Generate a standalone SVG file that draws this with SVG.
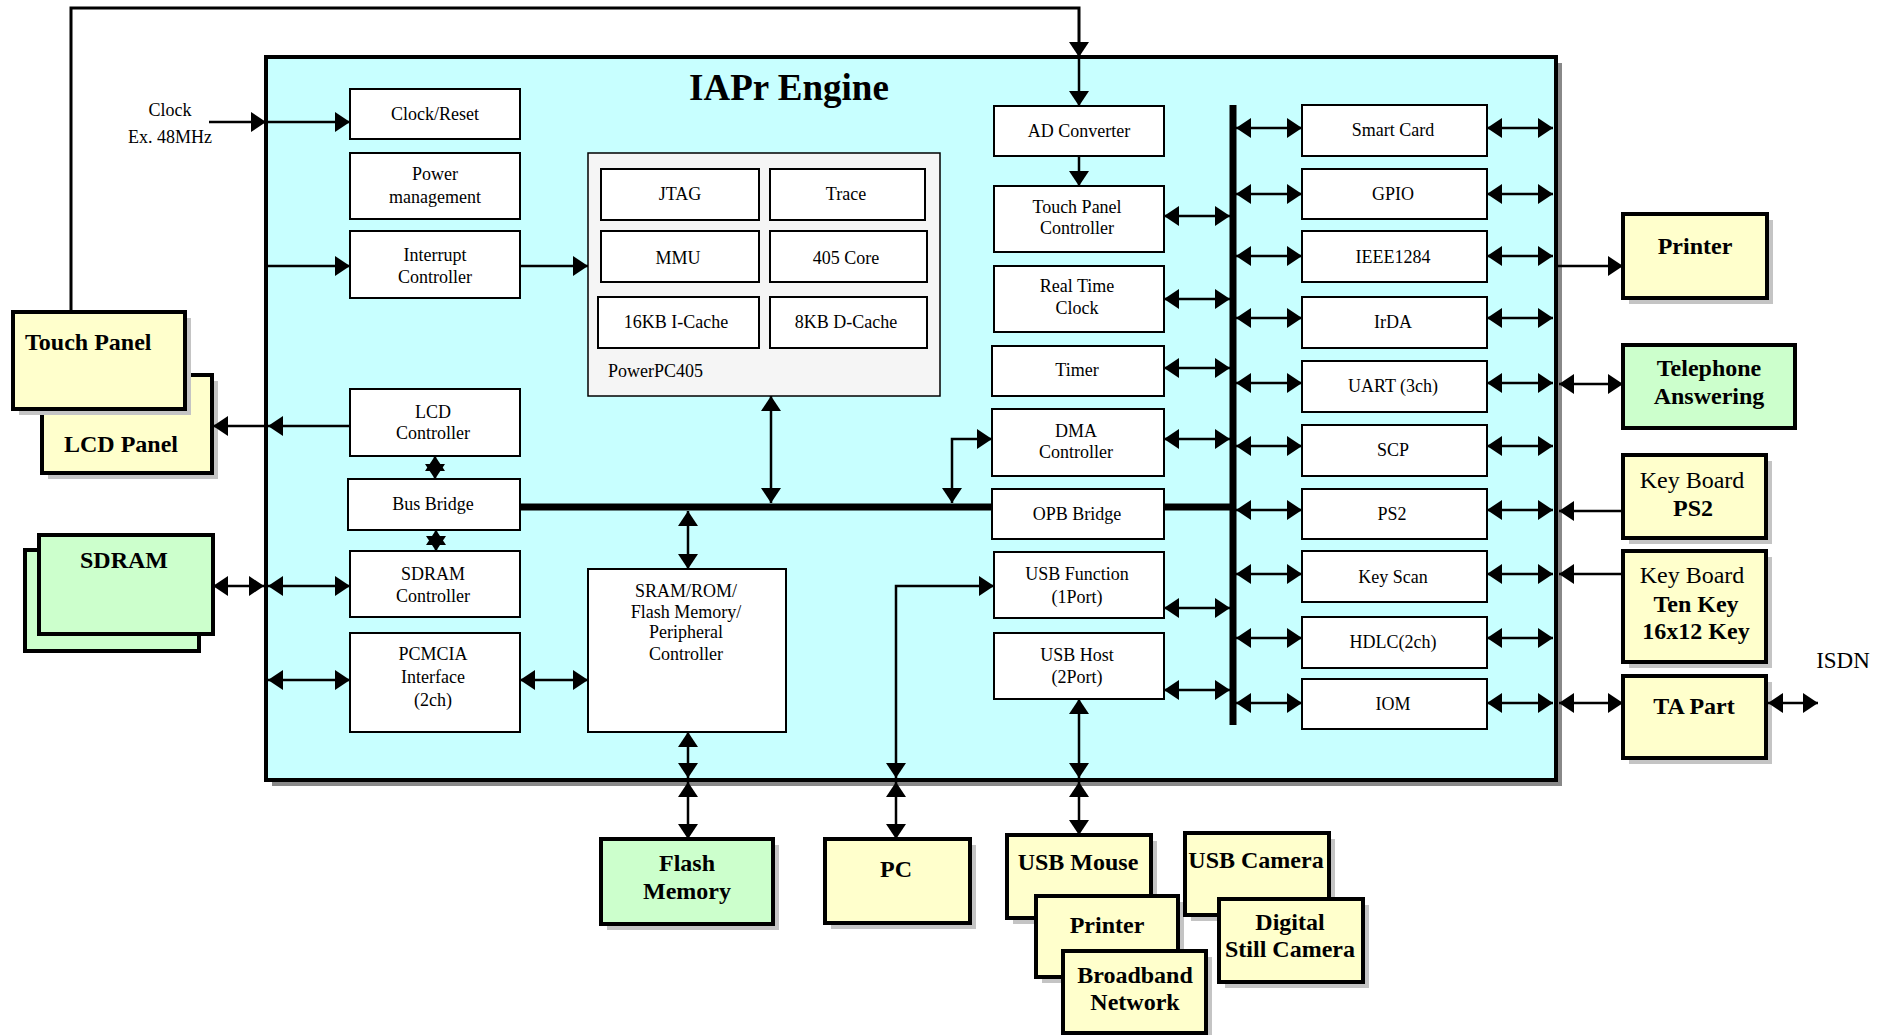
<svg xmlns="http://www.w3.org/2000/svg" width="1885" height="1035" viewBox="0 0 1885 1035">
<defs>
<marker id="ah" markerUnits="userSpaceOnUse" markerWidth="15" markerHeight="20" refX="15" refY="10" orient="auto-start-reverse" viewBox="0 0 15 20">
<path d="M0,0 L15,10 L0,20 z" fill="#000"/>
</marker>
<style>
.ib{fill:#fff;stroke:#000;stroke-width:2}
.xy{fill:#ffffcc;stroke:#000;stroke-width:4}
.xg{fill:#ccffcc;stroke:#000;stroke-width:4}
.sh{fill:#c4c4c4}
.t{font-family:"Liberation Serif","Times New Roman",serif;font-size:18px;fill:#000;text-anchor:middle}
.tb{font-family:"Liberation Serif","Times New Roman",serif;font-size:24px;font-weight:bold;fill:#000;text-anchor:middle}
.tr{font-family:"Liberation Serif","Times New Roman",serif;font-size:24px;fill:#000;text-anchor:middle}
.c{fill:none;stroke:#000;stroke-width:2.5}
.a2{marker-start:url(#ah);marker-end:url(#ah)}
.a1{marker-end:url(#ah)}
.bus{fill:none;stroke:#000;stroke-width:7}
</style>
</defs>
<rect width="1885" height="1035" fill="#fff"/>

<g id="iapr-engine">
<rect x="272" y="63" width="1290" height="723" fill="#888"/>
<rect x="266" y="57" width="1290" height="723" fill="#c8ffff" stroke="#000" stroke-width="4"/>
<text x="789" y="100" class="t" style="font-size:37px;font-weight:bold">IAPr Engine</text>
</g>

<!-- left column -->
<g id="clock-reset"><rect class="ib" x="350" y="89" width="170" height="50"/><text class="t" x="435" y="120">Clock/Reset</text></g>
<g id="power-management"><rect class="ib" x="350" y="153" width="170" height="66"/><text class="t" x="435" y="180">Power</text><text class="t" x="435" y="203">management</text></g>
<g id="interrupt-controller"><rect class="ib" x="350" y="231" width="170" height="67"/><text class="t" x="435" y="261">Interrupt</text><text class="t" x="435" y="283">Controller</text></g>
<g id="lcd-controller"><rect class="ib" x="350" y="389" width="170" height="67"/><text class="t" x="433" y="418">LCD</text><text class="t" x="433" y="439">Controller</text></g>
<g id="bus-bridge"><rect class="ib" x="348" y="479" width="172" height="51"/><text class="t" x="433" y="510">Bus Bridge</text></g>
<g id="sdram-controller"><rect class="ib" x="350" y="551" width="170" height="66"/><text class="t" x="433" y="580">SDRAM</text><text class="t" x="433" y="602">Controller</text></g>
<g id="pcmcia"><rect class="ib" x="350" y="633" width="170" height="99"/><text class="t" x="433" y="660">PCMCIA</text><text class="t" x="433" y="683">Interface</text><text class="t" x="433" y="706">(2ch)</text></g>

<!-- PowerPC -->
<g id="powerpc405">
<rect x="588" y="153" width="352" height="243" fill="#f5f5f5" stroke="#000" stroke-width="1.5"/>
<text class="t" x="608" y="377" style="text-anchor:start">PowerPC405</text>
</g>
<g id="jtag"><rect class="ib" x="601" y="169" width="158" height="51"/><text class="t" x="680" y="200">JTAG</text></g>
<g id="trace"><rect class="ib" x="770" y="169" width="155" height="51"/><text class="t" x="846" y="200">Trace</text></g>
<g id="mmu"><rect class="ib" x="601" y="231" width="158" height="51"/><text class="t" x="678" y="264">MMU</text></g>
<g id="core405"><rect class="ib" x="770" y="231" width="157" height="51"/><text class="t" x="846" y="264">405 Core</text></g>
<g id="icache"><rect class="ib" x="598" y="297" width="161" height="51"/><text class="t" x="676" y="328">16KB I-Cache</text></g>
<g id="dcache"><rect class="ib" x="770" y="297" width="157" height="51"/><text class="t" x="846" y="328">8KB D-Cache</text></g>

<g id="sram-rom"><rect class="ib" x="588" y="569" width="198" height="163"/><text class="t" x="686" y="597">SRAM/ROM/</text><text class="t" x="686" y="618">Flash Memory/</text><text class="t" x="686" y="638">Peripheral</text><text class="t" x="686" y="660">Controller</text></g>

<!-- middle column -->
<g id="ad-converter"><rect class="ib" x="994" y="106" width="170" height="50"/><text class="t" x="1079" y="137">AD Converter</text></g>
<g id="touch-panel-controller"><rect class="ib" x="994" y="186" width="170" height="66"/><text class="t" x="1077" y="213">Touch Panel</text><text class="t" x="1077" y="234">Controller</text></g>
<g id="real-time-clock"><rect class="ib" x="994" y="266" width="170" height="66"/><text class="t" x="1077" y="292">Real Time</text><text class="t" x="1077" y="314">Clock</text></g>
<g id="timer"><rect class="ib" x="992" y="346" width="172" height="50"/><text class="t" x="1077" y="376">Timer</text></g>
<g id="dma-controller"><rect class="ib" x="992" y="409" width="172" height="67"/><text class="t" x="1076" y="437">DMA</text><text class="t" x="1076" y="458">Controller</text></g>
<g id="opb-bridge"><rect class="ib" x="992" y="489" width="172" height="50"/><text class="t" x="1077" y="520">OPB Bridge</text></g>
<g id="usb-function"><rect class="ib" x="994" y="552" width="170" height="66"/><text class="t" x="1077" y="580">USB Function</text><text class="t" x="1077" y="603">(1Port)</text></g>
<g id="usb-host"><rect class="ib" x="994" y="633" width="170" height="66"/><text class="t" x="1077" y="661">USB Host</text><text class="t" x="1077" y="683">(2Port)</text></g>

<!-- right column -->
<g id="smart-card"><rect class="ib" x="1302" y="105" width="185" height="51"/><text class="t" x="1393" y="136">Smart Card</text></g>
<g id="gpio"><rect class="ib" x="1302" y="169" width="185" height="50"/><text class="t" x="1393" y="200">GPIO</text></g>
<g id="ieee1284"><rect class="ib" x="1302" y="231" width="185" height="51"/><text class="t" x="1393" y="263">IEEE1284</text></g>
<g id="irda"><rect class="ib" x="1302" y="297" width="185" height="51"/><text class="t" x="1393" y="328">IrDA</text></g>
<g id="uart"><rect class="ib" x="1302" y="361" width="185" height="51"/><text class="t" x="1393" y="392">UART (3ch)</text></g>
<g id="scp"><rect class="ib" x="1302" y="425" width="185" height="51"/><text class="t" x="1393" y="456">SCP</text></g>
<g id="ps2"><rect class="ib" x="1302" y="489" width="185" height="50"/><text class="t" x="1392" y="520">PS2</text></g>
<g id="key-scan"><rect class="ib" x="1302" y="551" width="185" height="51"/><text class="t" x="1393" y="583">Key Scan</text></g>
<g id="hdlc"><rect class="ib" x="1302" y="617" width="185" height="51"/><text class="t" x="1393" y="648">HDLC(2ch)</text></g>
<g id="iom"><rect class="ib" x="1302" y="679" width="185" height="50"/><text class="t" x="1393" y="710">IOM</text></g>

<!-- external left -->
<g id="clock-text"><text class="t" x="170" y="116">Clock</text><text class="t" x="170" y="143">Ex. 48MHz</text></g>
<g id="lcd-panel"><rect class="sh" x="48" y="381" width="170" height="98"/><rect class="xy" x="42" y="375" width="170" height="98"/><text class="tb" x="121" y="452">LCD Panel</text></g>
<g id="touch-panel"><rect class="sh" x="19" y="318" width="172" height="97"/><rect class="xy" x="13" y="312" width="172" height="97"/><text class="tb" x="25" y="350" style="text-anchor:start">Touch Panel</text></g>
<g id="sdram"><rect class="xg" x="25" y="550" width="174" height="101"/><rect class="xg" x="39" y="535" width="174" height="99"/><text class="tb" x="124" y="568">SDRAM</text></g>

<!-- external right -->
<g id="printer-right"><rect class="sh" x="1629" y="220" width="144" height="84"/><rect class="xy" x="1623" y="214" width="144" height="84"/><text class="tb" x="1695" y="254">Printer</text></g>
<g id="telephone-answering"><rect class="xg" x="1623" y="345" width="172" height="83"/><text class="tb" x="1709" y="376">Telephone</text><text class="tb" x="1709" y="404">Answering</text></g>
<g id="keyboard-ps2"><rect class="sh" x="1629" y="461" width="143" height="83"/><rect class="xy" x="1623" y="455" width="143" height="83"/><text class="tr" x="1692" y="488">Key Board</text><text class="tb" x="1693" y="516">PS2</text></g>
<g id="keyboard-tenkey"><rect class="sh" x="1629" y="557" width="143" height="111"/><rect class="xy" x="1623" y="551" width="143" height="111"/><text class="tr" x="1692" y="583">Key Board</text><text class="tb" x="1696" y="612">Ten Key</text><text class="tb" x="1696" y="639">16x12 Key</text></g>
<g id="ta-part"><rect class="sh" x="1629" y="682" width="143" height="82"/><rect class="xy" x="1623" y="676" width="143" height="82"/><text class="tb" x="1694" y="714">TA Part</text></g>
<g id="isdn"><text class="tr" x="1843" y="668" style="font-size:23px">ISDN</text></g>

<!-- external bottom -->
<g id="flash-memory"><rect class="sh" x="607" y="845" width="172" height="85"/><rect class="xg" x="601" y="839" width="172" height="85"/><text class="tb" x="687" y="871">Flash</text><text class="tb" x="687" y="899">Memory</text></g>
<g id="pc"><rect class="sh" x="831" y="845" width="145" height="84"/><rect class="xy" x="825" y="839" width="145" height="84"/><text class="tb" x="896" y="877">PC</text></g>
<g id="usb-mouse"><rect class="sh" x="1013" y="841" width="144" height="83"/><rect class="xy" x="1007" y="835" width="144" height="83"/><text class="tb" x="1078" y="870">USB Mouse</text></g>
<g id="printer-usb"><rect class="sh" x="1042" y="902" width="142" height="81"/><rect class="xy" x="1036" y="896" width="142" height="81"/><text class="tb" x="1107" y="933">Printer</text></g>
<g id="broadband-network"><rect class="sh" x="1069" y="957" width="143" height="82"/><rect class="xy" x="1063" y="951" width="143" height="82"/><text class="tb" x="1135" y="983">Broadband</text><text class="tb" x="1135" y="1010">Network</text></g>
<g id="usb-camera"><rect class="sh" x="1191" y="839" width="144" height="82"/><rect class="xy" x="1185" y="833" width="144" height="82"/><text class="tb" x="1256" y="868">USB Camera</text></g>
<g id="digital-still-camera"><rect class="sh" x="1225" y="905" width="144" height="83"/><rect class="xy" x="1219" y="899" width="144" height="83"/><text class="tb" x="1290" y="930">Digital</text><text class="tb" x="1290" y="957">Still Camera</text></g>

<g id="connectors">
<polyline class="c a1" points="71,312 71,8 1079,8 1079,57" style="stroke-width:3"/>
<line class="c a1" x1="1079" y1="57" x2="1079" y2="106"/>
<line class="c a1" x1="1079" y1="156" x2="1079" y2="186"/>
<line class="c a2" x1="1164" y1="216" x2="1230" y2="216"/>
<line class="c a2" x1="1164" y1="299" x2="1230" y2="299"/>
<line class="c a2" x1="1164" y1="368" x2="1230" y2="368"/>
<line class="c a2" x1="1164" y1="439" x2="1230" y2="439"/>
<line class="c a2" x1="1164" y1="608" x2="1230" y2="608"/>
<line class="c a2" x1="1164" y1="690" x2="1230" y2="690"/>
<line class="c a2" x1="1236" y1="128" x2="1302" y2="128"/><line class="c a2" x1="1487" y1="128" x2="1553" y2="128"/>
<line class="c a2" x1="1236" y1="194" x2="1302" y2="194"/><line class="c a2" x1="1487" y1="194" x2="1553" y2="194"/>
<line class="c a2" x1="1236" y1="256" x2="1302" y2="256"/><line class="c a2" x1="1487" y1="256" x2="1553" y2="256"/>
<line class="c a2" x1="1236" y1="318" x2="1302" y2="318"/><line class="c a2" x1="1487" y1="318" x2="1553" y2="318"/>
<line class="c a2" x1="1236" y1="383" x2="1302" y2="383"/><line class="c a2" x1="1487" y1="383" x2="1553" y2="383"/>
<line class="c a2" x1="1236" y1="446" x2="1302" y2="446"/><line class="c a2" x1="1487" y1="446" x2="1553" y2="446"/>
<line class="c a2" x1="1236" y1="510" x2="1302" y2="510"/><line class="c a2" x1="1487" y1="510" x2="1553" y2="510"/>
<line class="c a2" x1="1236" y1="574" x2="1302" y2="574"/><line class="c a2" x1="1487" y1="574" x2="1553" y2="574"/>
<line class="c a2" x1="1236" y1="638" x2="1302" y2="638"/><line class="c a2" x1="1487" y1="638" x2="1553" y2="638"/>
<line class="c a2" x1="1236" y1="703" x2="1302" y2="703"/><line class="c a2" x1="1487" y1="703" x2="1553" y2="703"/>
<line class="c a1" x1="1556" y1="266" x2="1623" y2="266"/>
<line class="c a2" x1="1559" y1="384" x2="1623" y2="384"/>
<line class="c a1" x1="1623" y1="511" x2="1559" y2="511"/>
<line class="c a1" x1="1623" y1="574" x2="1559" y2="574"/>
<line class="c a2" x1="1559" y1="703" x2="1623" y2="703"/>
<line class="c a2" x1="1768" y1="703" x2="1818" y2="703"/>
<line class="c a1" x1="209" y1="122" x2="266" y2="122"/>
<line class="c a1" x1="266" y1="122" x2="350" y2="122"/>
<line class="c a1" x1="266" y1="266" x2="350" y2="266"/>
<line class="c a1" x1="520" y1="266" x2="588" y2="266"/>
<line class="c a1" x1="350" y1="426" x2="268" y2="426"/>
<line class="c a1" x1="264" y1="426" x2="213" y2="426"/>
<line class="c a2" x1="435" y1="456" x2="435" y2="479"/>
<line class="c a2" x1="436" y1="530" x2="436" y2="551"/>
<line class="c a2" x1="213" y1="586" x2="264" y2="586"/>
<line class="c a2" x1="268" y1="586" x2="350" y2="586"/>
<line class="c a2" x1="268" y1="680" x2="350" y2="680"/>
<line class="c a2" x1="520" y1="680" x2="588" y2="680"/>
<line class="bus" x1="520" y1="507" x2="992" y2="507"/>
<line class="bus" x1="1164" y1="507" x2="1233" y2="507"/>
<line class="bus" x1="1233" y1="105" x2="1233" y2="725"/>
<line class="c a2" x1="771" y1="396" x2="771" y2="503"/>
<line class="c a2" x1="688" y1="511" x2="688" y2="569"/>
<polyline class="c a2" points="952,503 952,439 992,439"/>
<polyline class="c a2" points="896,778 896,586 994,586"/>
<line class="c a2" x1="1079" y1="699" x2="1079" y2="778"/>
<line class="c a2" x1="688" y1="732" x2="688" y2="778"/>
<line class="c a2" x1="688" y1="782" x2="688" y2="839"/>
<line class="c a2" x1="896" y1="782" x2="896" y2="839"/>
<line class="c a2" x1="1079" y1="782" x2="1079" y2="835"/>
</g>
</svg>
